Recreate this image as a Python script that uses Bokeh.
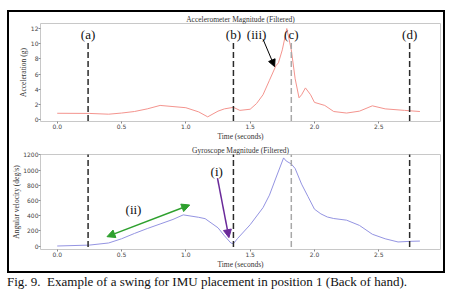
from bokeh.plotting import figure
from bokeh.layouts import column
from bokeh.models import (Div, Range1d, Arrow, NormalHead, Label, FixedTicker,
                          PrintfTickFormatter, Title)
from bokeh.embed import file_html
from bokeh.resources import INLINE

# ---------------- data ----------------
time_acc = [0.0, 0.25, 0.4, 0.5, 0.6, 0.7, 0.8, 0.9, 1.0, 1.1, 1.17, 1.25, 1.3, 1.37,
            1.42, 1.5, 1.55, 1.6, 1.65, 1.7, 1.72, 1.75, 1.785, 1.82, 1.85, 1.88, 1.9,
            1.93, 1.97, 2.0, 2.08, 2.15, 2.25, 2.35, 2.45, 2.55, 2.7, 2.82]
acc = [0.87, 0.85, 0.75, 0.9, 1.1, 1.45, 1.9, 1.75, 1.6, 1.05, 0.4, 1.15, 1.45, 1.65,
       1.25, 1.4, 2.15, 3.3, 5.2, 7.1, 7.5, 9.2, 12.0, 9.2, 5.4, 2.9, 3.3,
       4.2, 3.3, 2.3, 1.9, 1.1, 0.9, 1.15, 1.85, 1.45, 1.25, 1.1]

time_gyro = [0.0, 0.25, 0.4, 0.5, 0.6, 0.7, 0.8, 0.9, 0.98, 1.1, 1.15, 1.25, 1.3, 1.35,
             1.37, 1.4, 1.5, 1.6, 1.65, 1.7, 1.76, 1.78, 1.82, 1.85, 1.9, 1.95, 2.0,
             2.05, 2.1, 2.15, 2.25, 2.35, 2.45, 2.55, 2.65, 2.75, 2.82]
gyro = [0, 12, 40, 95, 165, 230, 290, 350, 410, 378, 360, 240, 135, 40,
        30, 95, 280, 505, 670, 895, 1160, 1120, 1080, 1020, 815, 650, 485,
        423, 382, 362, 340, 271, 155, 95, 53, 62, 65]

event_times = [0.24, 1.37, 1.82, 2.74]
event_labels = ["(a)", "(b)", "(c)", "(d)"]
event_colors = ["#2a2a2a", "#2a2a2a", "#a8a8a8", "#2a2a2a"]

x_ticks = [0.0, 0.5, 1.0, 1.5, 2.0, 2.5]
acc_ticks = [0, 2, 4, 6, 8, 10, 12]
gyro_ticks = [0, 200, 400, 600, 800, 1000, 1200]

SERIF = "Liberation Serif"
SANS = "DejaVu Sans"
TXT = "#333333"
W = 434


def style(p, yticks, ylabel, title):
    p.title.text = title
    p.title.align = "center"
    p.title.text_font = SERIF
    p.title.text_font_size = "7.5px"
    p.title.text_font_style = "normal"
    p.title.text_color = TXT
    p.title.standoff = 0
    p.outline_line_color = "#c8c8c8"
    p.outline_line_width = 1
    p.xgrid.visible = False
    p.ygrid.visible = False
    p.xaxis.ticker = FixedTicker(ticks=x_ticks)
    p.yaxis.ticker = FixedTicker(ticks=yticks)
    p.xaxis.formatter = PrintfTickFormatter(format="%.1f")
    p.xaxis.axis_label = "Time (seconds)"
    for ax in (p.xaxis[0], p.yaxis[0]):
        ax.axis_line_color = None
        ax.major_tick_out = 2
        ax.major_tick_in = 0
        ax.minor_tick_line_color = None
        ax.major_tick_line_color = "#888888"
        ax.major_label_text_font = SANS
        ax.major_label_text_font_size = "6px"
        ax.major_label_text_color = "#444444"
        ax.major_label_standoff = 0
        ax.axis_label_text_font = SERIF
        ax.axis_label_text_font_size = "7.5px"
        ax.axis_label_text_font_style = "normal"
        ax.axis_label_text_color = TXT
        ax.axis_label_standoff = 0
    p.add_layout(Title(text=ylabel, align="center", text_font=SERIF, text_font_size="7.5px",
                       text_font_style="normal", text_color=TXT, standoff=0), "left")


def text_label(p, x, y, text, size="13px"):
    p.add_layout(Label(x=x, y=y, text=text, text_align="center", text_baseline="middle",
                       text_font=SERIF, text_font_size=size, text_color="#111111"))


xr = Range1d(-0.13, 2.98)

p1 = figure(width=W, height=131, x_range=xr, y_range=Range1d(-0.21, 12.66),
            output_backend="svg", toolbar_location=None,
            min_border_left=29, min_border_right=3, min_border_top=9, min_border_bottom=19)
style(p1, acc_ticks, "Acceleration (g)", "Accelerometer Magnitude (Filtered)")
p1.line(time_acc, acc, line_color="#f4948e", line_width=1)

p2 = figure(width=W, height=128, x_range=xr, y_range=Range1d(-46, 1205),
            output_backend="svg", toolbar_location=None,
            min_border_left=29, min_border_right=3, min_border_top=9, min_border_bottom=19)
style(p2, gyro_ticks, "Angular velocity (deg/s)", "Gyroscope Magnitude (Filtered)")
p2.line(time_gyro, gyro, line_color="#9494e2", line_width=1)

# event markers: dashed vertical lines running through both panels
for t, lab, col in zip(event_times, event_labels, event_colors):
    p1.add_layout(Arrow(end=None, x_start=t, x_end=t, y_start=10.1, y_end=p1.y_range.start - 8,
                        line_color=col, line_width=1.5, line_dash="6 3"))
    p2.add_layout(Arrow(end=None, x_start=t, x_end=t, y_start=p2.y_range.end + 400,
                        y_end=p2.y_range.start, line_color=col, line_width=1.5, line_dash="6 3"))
    text_label(p1, t, 11.15, lab)

# (iii) annotation
text_label(p1, 1.55, 11.15, "(iii)")
p1.add_layout(Arrow(x_start=1.6, y_start=10.6, x_end=1.69, y_end=7.0, line_color="black",
                    line_width=1, end=NormalHead(size=7, fill_color="black", line_color="black")))

# (i) annotation
text_label(p2, 1.24, 975, "(i)")
p2.add_layout(Arrow(x_start=1.246, y_start=895, x_end=1.335, y_end=110, line_color="#6a2a9a",
                    line_width=1.5, end=NormalHead(size=8, fill_color="#6a2a9a", line_color="#6a2a9a")))

# (ii) annotation
text_label(p2, 0.593, 485, "(ii)")
green = "#2ea02e"
p2.add_layout(Arrow(x_start=0.387, y_start=123, x_end=1.03, y_end=540, line_color=green,
                    line_width=1.5,
                    start=NormalHead(size=8, fill_color=green, line_color=green),
                    end=NormalHead(size=8, fill_color=green, line_color=green)))

box = column(p1, p2, spacing=0, styles={"border": "2px solid black"}, margin=(10, 0, 0, 7))
caption = Div(text="Fig. 9.&nbsp; Example of a swing for IMU placement in position 1 (Back of hand).",
              width=440, height=18, margin=(0, 0, 0, 7),
              styles={"font-family": SERIF, "font-size": "13px", "color": "#111111",
                      "white-space": "nowrap"})
page = column(box, caption, spacing=0)

open("out.html", "w").write(file_html(page, INLINE))
